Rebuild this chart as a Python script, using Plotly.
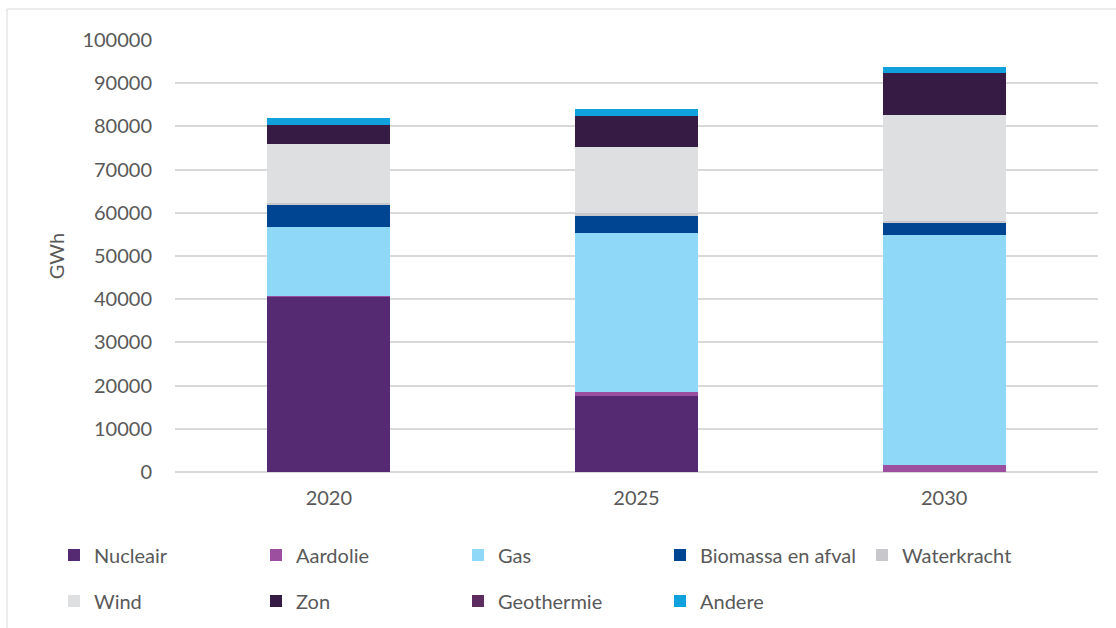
import plotly.graph_objects as go

years = ["2020", "2025", "2030"]
series_names = ["Nucleair", "Aardolie", "Gas", "Biomassa en afval", "Waterkracht",
                "Wind", "Zon", "Geothermie", "Andere"]
nucleair = [40600, 17600, 0]
aardolie = [200, 900, 1600]
gas = [16000, 36800, 53200]
biomassa = [5200, 4000, 2800]
waterkracht = [300, 600, 500]
wind = [13700, 15400, 24500]
zon = [4400, 7200, 9800]
geothermie = [0, 0, 0]
andere = [1500, 1500, 1350]
yticks = list(range(0, 100001, 10000))

colors = ["#562A72", "#9B4F9E", "#8FD8F7", "#004592", "#C8C8CC",
          "#DEDFE1", "#361B45", "#5C2B60", "#10A0DC"]
values = [nucleair, aardolie, gas, biomassa, waterkracht, wind, zon, geothermie, andere]

FONT = "Lato"
TXT = "#595959"

fig = go.Figure()
for i, (name, vals, col) in enumerate(zip(series_names, values, colors)):
    fig.add_trace(go.Bar(
        x=years, y=vals, name=name, marker_color=col, marker_line_width=0,
        width=0.4, legend="legend" if i < 5 else "legend2",
    ))

W, H = 1116, 628
L, R, T, B = 175, 18, 40, 156
pw, ph = W - L - R, H - T - B


def px2x(px):
    return (px - L) / pw


def py2y(py):
    return (H - B - py) / ph


legend_common = dict(
    orientation="h", xanchor="left", yanchor="middle",
    font=dict(family=FONT, size=20, color=TXT),
    entrywidth=157, entrywidthmode="pixels", itemwidth=30,
    bgcolor="rgba(0,0,0,0)", traceorder="normal",
)

fig.update_layout(
    width=W, height=H,
    margin=dict(l=L, r=R, t=T, b=B, autoexpand=False),
    paper_bgcolor="white", plot_bgcolor="white",
    barmode="stack", bargap=0.6,
    font=dict(family=FONT, size=20, color=TXT),
    showlegend=True,
    legend=dict(x=px2x(54), y=py2y(555), **legend_common),
    legend2=dict(x=px2x(54), y=py2y(601), **legend_common),
    xaxis=dict(
        type="category", range=[-0.5, 2.5], showgrid=False, showline=False,
        ticks="", tickfont=dict(family=FONT, size=20, color=TXT),
        ticklabelstandoff=12, automargin=False,
    ),
    yaxis=dict(
        range=[0, 100000], tickvals=yticks, ticktext=[str(v) for v in yticks],
        showgrid=True, gridcolor="#D9D9D9", gridwidth=1.5,
        zeroline=True, zerolinecolor="#D9D9D9", zerolinewidth=1.5,
        showline=False, ticks="", ticklabelstandoff=22, automargin=False,
        tickfont=dict(family=FONT, size=20, color=TXT),
        title=dict(text="GWh", font=dict(family=FONT, size=20, color=TXT), standoff=12),
    ),
    shapes=[dict(
        type="rect", xref="paper", yref="paper",
        x0=px2x(7), x1=px2x(1125), y0=py2y(9), y1=py2y(640),
        line=dict(color="#D9D9D9", width=1), fillcolor="rgba(0,0,0,0)", layer="below",
    )],
)

fig.write_html("out.html")
